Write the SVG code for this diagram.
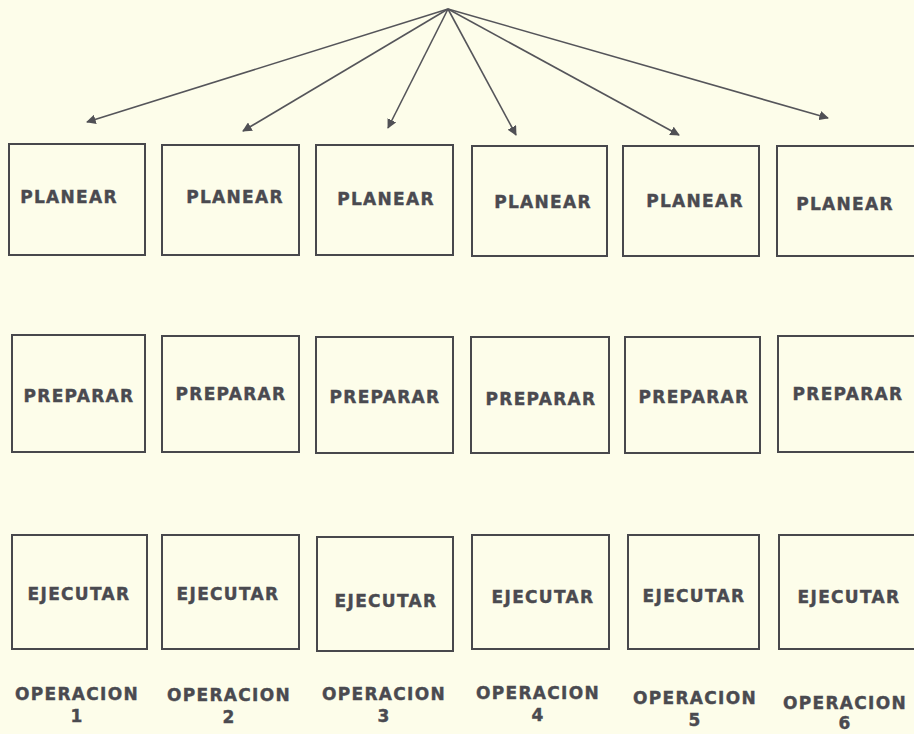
<svg xmlns="http://www.w3.org/2000/svg" width="914" height="734" viewBox="0 0 914 734">
<defs>
<marker id="ah" viewBox="0 0 10 10" refX="9" refY="5" markerWidth="6" markerHeight="6" orient="auto" markerUnits="strokeWidth">
<path d="M0,0 L10,5 L0,10 z" fill="#505055"/>
</marker>
<style>
.bx{fill:none;stroke:#48484c;stroke-width:2}
.t{font-family:"DejaVu Sans",sans-serif;font-weight:bold;font-size:17px;fill:#4a4a50;stroke:#4a4a50;stroke-width:0.4;text-anchor:middle;letter-spacing:1.3px}
.c{stroke:#55555a;stroke-width:1.6;fill:none;marker-end:url(#ah)}
</style>
</defs>
<rect width="914" height="734" fill="#fdfdea"/>
<g id="connectors">
<line class="c" x1="448" y1="9" x2="87" y2="122"/>
<line class="c" x1="448" y1="9" x2="243" y2="131"/>
<line class="c" x1="448" y1="9" x2="388" y2="128"/>
<line class="c" x1="448" y1="9" x2="516" y2="135"/>
<line class="c" x1="448" y1="9" x2="679" y2="135"/>
<line class="c" x1="448" y1="9" x2="828" y2="118"/>
</g>
<g id="planear1"><rect class="bx" x="9" y="144" width="136" height="111"/><text class="t" x="69" y="203">PLANEAR</text></g>
<g id="planear2"><rect class="bx" x="162" y="145" width="137" height="110"/><text class="t" x="235" y="203">PLANEAR</text></g>
<g id="planear3"><rect class="bx" x="316" y="145" width="137" height="110"/><text class="t" x="386" y="205">PLANEAR</text></g>
<g id="planear4"><rect class="bx" x="472" y="146" width="135" height="110"/><text class="t" x="543" y="208">PLANEAR</text></g>
<g id="planear5"><rect class="bx" x="623" y="146" width="136" height="110"/><text class="t" x="695" y="207">PLANEAR</text></g>
<g id="planear6"><rect class="bx" x="777" y="146" width="139" height="110"/><text class="t" x="845" y="210">PLANEAR</text></g>

<g id="preparar1"><rect class="bx" x="12" y="335" width="133" height="117"/><text class="t" x="79" y="402">PREPARAR</text></g>
<g id="preparar2"><rect class="bx" x="162" y="336" width="137" height="116"/><text class="t" x="231" y="400">PREPARAR</text></g>
<g id="preparar3"><rect class="bx" x="316" y="337" width="137" height="116"/><text class="t" x="385" y="403">PREPARAR</text></g>
<g id="preparar4"><rect class="bx" x="471" y="337" width="138" height="116"/><text class="t" x="541" y="405">PREPARAR</text></g>
<g id="preparar5"><rect class="bx" x="625" y="337" width="135" height="116"/><text class="t" x="694" y="403">PREPARAR</text></g>
<g id="preparar6"><rect class="bx" x="778" y="336" width="138" height="116"/><text class="t" x="848" y="400">PREPARAR</text></g>

<g id="ejecutar1"><rect class="bx" x="12" y="535" width="135" height="114"/><text class="t" x="79" y="600">EJECUTAR</text></g>
<g id="ejecutar2"><rect class="bx" x="162" y="535" width="137" height="114"/><text class="t" x="228" y="600">EJECUTAR</text></g>
<g id="ejecutar3"><rect class="bx" x="317" y="537" width="136" height="114"/><text class="t" x="386" y="607">EJECUTAR</text></g>
<g id="ejecutar4"><rect class="bx" x="472" y="535" width="137" height="114"/><text class="t" x="543" y="603">EJECUTAR</text></g>
<g id="ejecutar5"><rect class="bx" x="628" y="535" width="131" height="114"/><text class="t" x="694" y="602">EJECUTAR</text></g>
<g id="ejecutar6"><rect class="bx" x="779" y="535" width="137" height="114"/><text class="t" x="849" y="603">EJECUTAR</text></g>

<g id="op1"><text class="t" x="77" y="700">OPERACION</text><text class="t" x="77" y="722">1</text></g>
<g id="op2"><text class="t" x="229" y="701">OPERACION</text><text class="t" x="229" y="723">2</text></g>
<g id="op3"><text class="t" x="384" y="700">OPERACION</text><text class="t" x="384" y="722">3</text></g>
<g id="op4"><text class="t" x="538" y="699">OPERACION</text><text class="t" x="538" y="721">4</text></g>
<g id="op5"><text class="t" x="695" y="704">OPERACION</text><text class="t" x="695" y="726">5</text></g>
<g id="op6"><text class="t" x="845" y="709">OPERACION</text><text class="t" x="845" y="729">6</text></g>
</svg>
